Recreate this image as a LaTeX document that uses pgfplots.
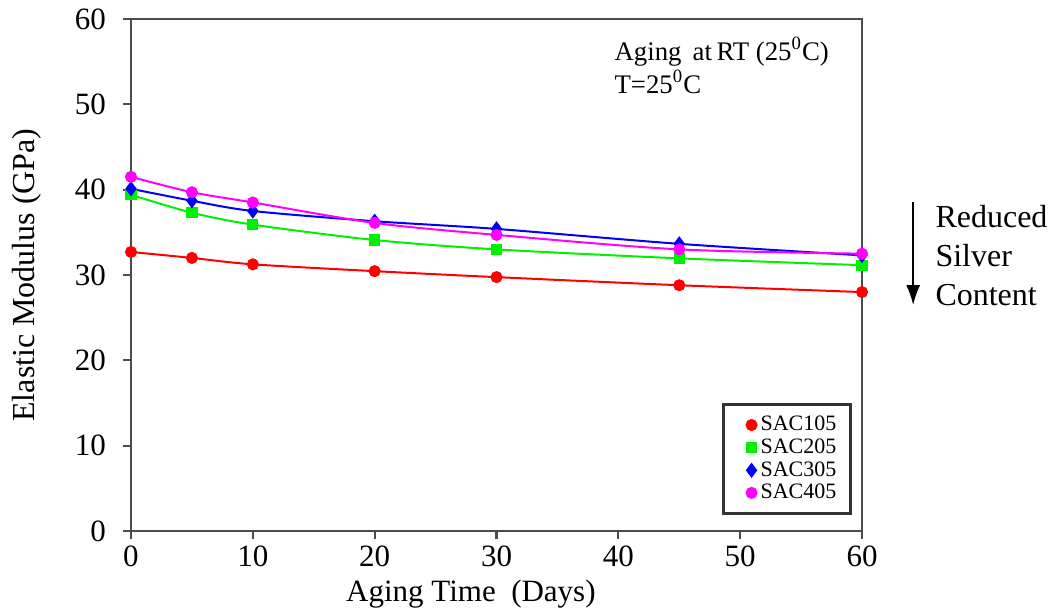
\documentclass[border=0pt]{standalone}
\usepackage{pgfplots}
\pgfplotsset{compat=1.18}
\usetikzlibrary{arrows.meta}
\usepackage{fontspec}
\setmainfont{Liberation Serif}
\definecolor{cred}{RGB}{255,0,0}
\definecolor{cgreen}{RGB}{0,240,0}
\definecolor{cblue}{RGB}{0,0,255}
\definecolor{cmag}{RGB}{255,0,255}
\begin{document}
\begin{tikzpicture}
\begin{axis}[
  scale only axis,
  width=365.5pt, height=256pt,
  xmin=0, xmax=60, ymin=0, ymax=60,
  xtick={0,10,...,60}, ytick={0,10,...,60},
  tick align=outside, tick pos=left,
  major tick length=4pt,
  axis line style={draw=black!70, line width=1.3pt},
  every tick/.style={black!70, line width=1.1pt},
  tick label style={font=\fontsize{15.5}{16}\selectfont},
  yticklabel style={xshift=-5pt},
  /pgf/number format/assume math mode=true,
  xlabel={Aging Time\ \ (Days)},
  ylabel={Elastic Modulus (GPa)},
  xlabel style={font=\fontsize{15.5}{16}\selectfont, at={(axis description cs:0.465,-0.123)}, anchor=center},
  ylabel style={font=\fontsize{16}{16}\selectfont, at={(axis description cs:-0.142,0.5)}, anchor=center},
  clip=false,
  legend style={at={(rel axis cs:0.986,0.031)}, anchor=south east,
    draw=black!80, line width=1.4pt, font=\fontsize{11}{12}\selectfont,
    row sep=-1.5pt, inner xsep=5pt, inner ysep=4pt,
    legend cell align=left},
  legend image code/.code={\path[draw=none,fill=none] (-9pt,0) -- (0pt,0); \draw[mark repeat=2,mark phase=2,#1] plot coordinates {(0cm,0cm) (0.001cm,0cm)};},
]
\addplot[cred, line width=1pt, smooth, mark=*, mark size=2.5pt, mark options={fill=cred, draw=cred}]
 coordinates {(0,32.7) (5,32.0) (10,31.25) (20,30.45) (30,29.75) (45,28.8) (60,28.0)};
\addlegendentry{SAC105}
\addplot[cgreen, line width=1pt, smooth, mark=square*, mark size=2.3pt, mark options={fill=cgreen, draw=cgreen}]
 coordinates {(0,39.4) (5,37.3) (10,35.9) (20,34.1) (30,33.0) (45,31.95) (60,31.15)};
\addlegendentry{SAC205}
\addplot[cblue, line width=1pt, smooth, mark=diamond*, mark size=3pt, mark options={fill=cblue, draw=cblue}]
 coordinates {(0,40.1) (5,38.7) (10,37.5) (20,36.3) (30,35.4) (45,33.65) (60,32.3)};
\addlegendentry{SAC305}
\addplot[cmag, line width=1pt, smooth, mark=*, mark size=2.5pt, mark options={fill=cmag, draw=cmag}]
 coordinates {(0,41.5) (5,39.7) (10,38.5) (20,36.1) (30,34.7) (45,33.0) (60,32.5)};
\addlegendentry{SAC405}
\node[anchor=north west, align=left, font=\fontsize{13.4}{16.5}\selectfont, inner sep=0pt]
  at (rel axis cs:0.661,0.965) {Aging\ \,at\,RT (25\textsuperscript{0}C)\\T=25\textsuperscript{0}C};
\draw[-{Latex[length=10pt,width=7pt]}, line width=1.1pt] (rel axis cs:1.070,0.643) -- (rel axis cs:1.070,0.441);
\node[anchor=north west, align=left, font=\fontsize{16}{19.5}\selectfont, inner sep=0pt]
  at (rel axis cs:1.100,0.637) {Reduced\\Silver\\Content};
\path (rel axis cs:0,0) -- ++(-65.5pt,-41pt);
\path (rel axis cs:1,1) -- ++(96pt,9.5pt);
\end{axis}
\end{tikzpicture}
\end{document}
